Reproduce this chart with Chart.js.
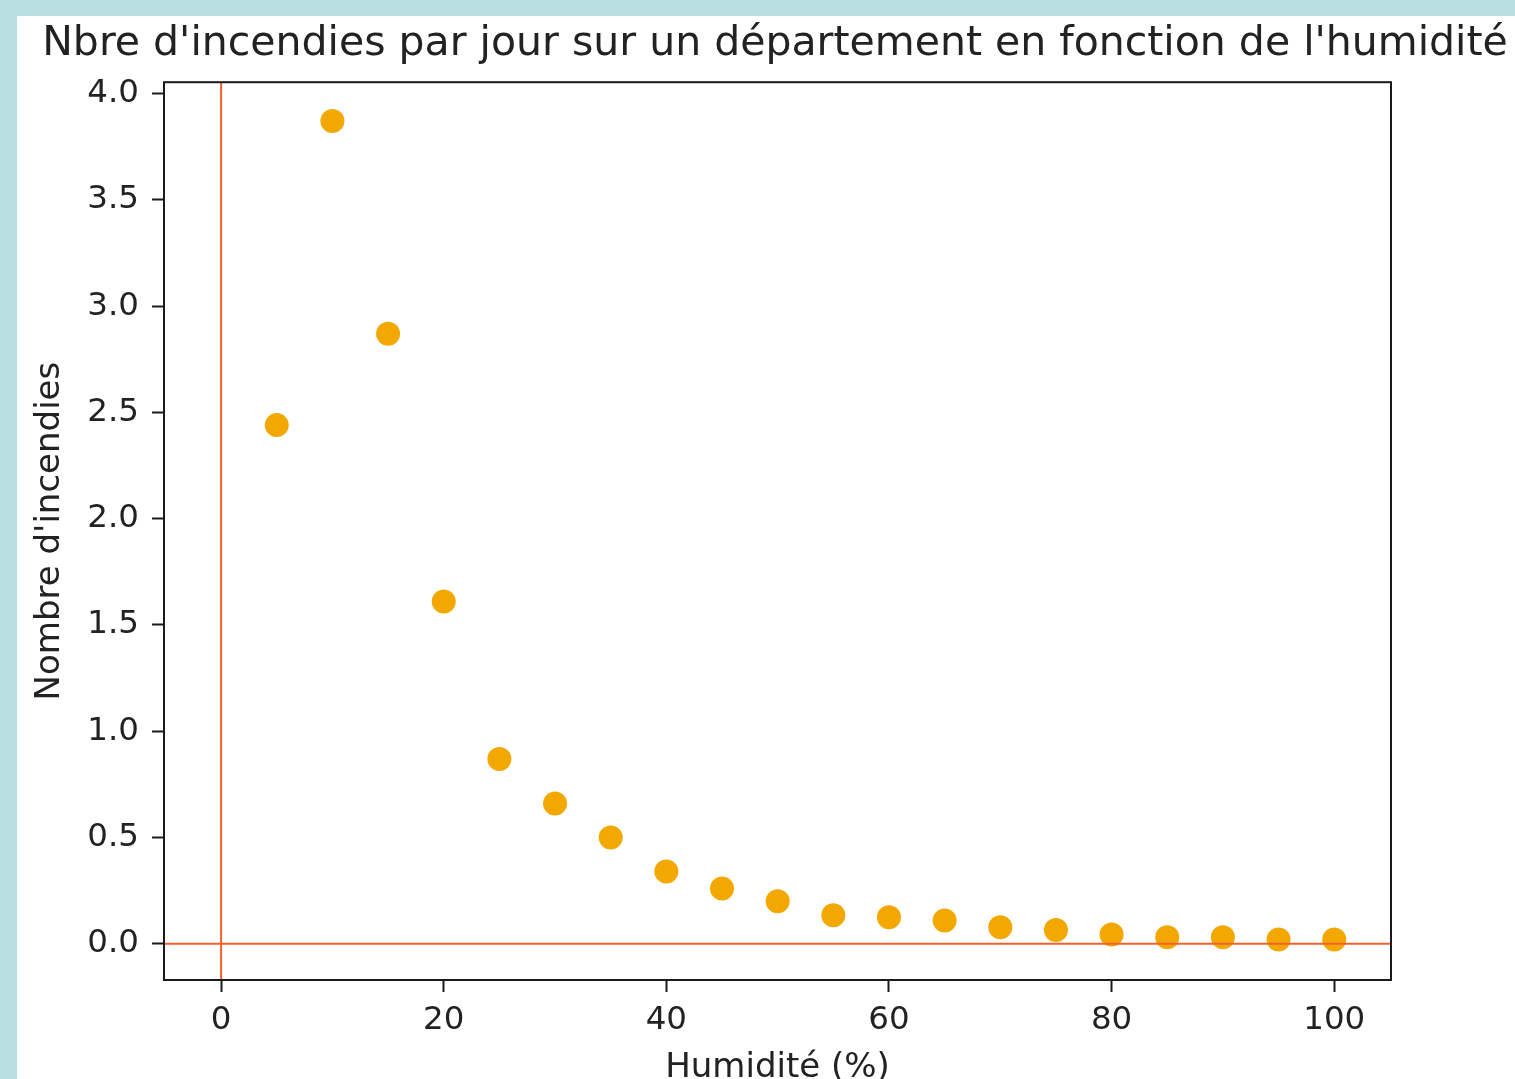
<!DOCTYPE html>
<html>
<head>
<meta charset="utf-8">
<script src="https://cdn.jsdelivr.net/npm/chart.js@4/dist/chart.umd.min.js"></script>
<style>
  html, body { margin:0; padding:0; overflow:hidden; background:#b9dfe2; }
  #wrap { position:absolute; left:17px; top:16px; width:1498px; height:1090px; background:#fff; }
  canvas { display:block; }
</style>
</head>
<body>
<div id="wrap"><canvas id="c" width="1498" height="1090" style="width:1498px;height:1090px"></canvas></div>
<script>
// Données
const humidite  = [5, 10, 15, 20, 25, 30, 35, 40, 45, 50, 55, 60, 65, 70, 75, 80, 85, 90, 95, 100];
const incendies = [2.44, 3.87, 2.87, 1.61, 0.87, 0.66, 0.50, 0.34, 0.26, 0.20, 0.135, 0.125, 0.11, 0.078, 0.065, 0.044, 0.031, 0.031, 0.02, 0.02];
const xTicks = [0, 20, 40, 60, 80, 100];
const yTicks = [0, 0.5, 1, 1.5, 2, 2.5, 3, 3.5, 4];
const refX = [0];   // axvline
const refY = [0];   // axhline

const FONT = 'DejaVu Sans';
const TXT = '#222';

// cadre + droites de référence
const framePlugin = {
  id:'frame',
  afterDatasetsDraw(chart){
    const {ctx, chartArea:a, scales:{x, y}} = chart;
    ctx.save();
    ctx.beginPath(); ctx.rect(a.left, a.top, a.right-a.left, a.bottom-a.top); ctx.clip();
    ctx.strokeStyle = '#f4602c'; ctx.lineWidth = 2;
    refX.forEach(v => { const px = x.getPixelForValue(v); ctx.beginPath(); ctx.moveTo(px, a.top); ctx.lineTo(px, a.bottom); ctx.stroke(); });
    refY.forEach(v => { const py = y.getPixelForValue(v); ctx.beginPath(); ctx.moveTo(a.left, py); ctx.lineTo(a.right, py); ctx.stroke(); });
    ctx.restore();
    ctx.save();
    ctx.strokeStyle = '#1a1a1a'; ctx.lineWidth = 2;
    ctx.strokeRect(a.left, a.top, a.right-a.left, a.bottom-a.top);
    ctx.restore();
  }
};

new Chart(document.getElementById('c'), {
  type:'scatter',
  data:{
    datasets:[{
      data: humidite.map((h,i) => ({x:h, y:incendies[i]})),
      backgroundColor:'#f2a800',
      borderWidth:0,
      pointRadius:12,
      pointHoverRadius:12
    }]
  },
  options:{
    responsive:false,
    animation:false,
    layout:{ padding:{ left:18, right:0, top:0, bottom:0 } },
    plugins:{
      legend:{ display:false },
      tooltip:{ enabled:false },
      title:{
        display:true,
        text:"Nbre d'incendies par jour sur un département en fonction de l'humidité",
        color:TXT,
        font:{ family:FONT, size:41, weight:'normal', lineHeight:1.2 },
        padding:{ top:4, bottom:13 }
      }
    },
    scales:{
      x:{
        type:'linear', min:-5.13, max:105.1,
        afterBuildTicks: s => { s.ticks = xTicks.map(v => ({value:v})); },
        afterFit: s => { s.height = 126; },
        grid:{ drawOnChartArea:false, drawTicks:true, tickLength:12, tickColor:'#1a1a1a', tickWidth:2 },
        border:{ display:false },
        ticks:{ color:TXT, padding:9, maxRotation:0, font:{ family:FONT, size:32.5 } },
        title:{ display:true, text:'Humidité (%)', color:TXT, font:{ family:FONT, size:34, lineHeight:1 }, padding:{ top:0, bottom:21 } }
      },
      y:{
        type:'linear', min:-0.17, max:4.053,
        afterBuildTicks: s => { s.ticks = yTicks.map(v => ({value:v})); },
        afterFit: s => { s.width = 129; },
        grid:{ drawOnChartArea:false, drawTicks:true, tickLength:12, tickColor:'#1a1a1a', tickWidth:2 },
        border:{ display:false },
        ticks:{ color:TXT, padding:13, font:{ family:FONT, size:32.5 }, callback: v => v.toFixed(1) },
        title:{ display:true, text:"Nombre d'incendies", color:TXT, font:{ family:FONT, size:34, lineHeight:0.9 }, padding:{ top:0, bottom:0 } }
      },
      yr:{
        type:'linear', position:'right', min:0, max:1,
        afterFit: s => { s.width = 124; },
        grid:{ display:false }, border:{ display:false }, ticks:{ display:false }
      }
    }
  },
  plugins:[framePlugin]
});
</script>
</body>
</html>
